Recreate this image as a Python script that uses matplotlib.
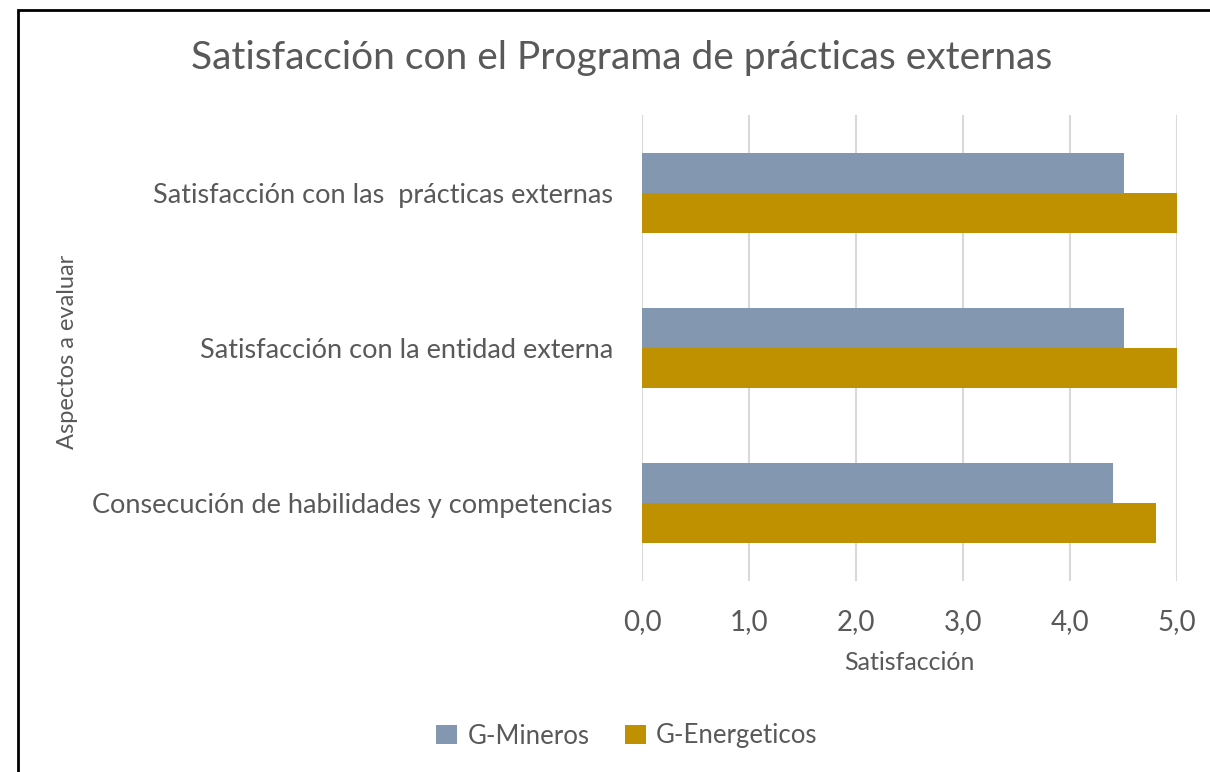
import numpy as np
import matplotlib.pyplot as plt
from matplotlib.patches import Rectangle

categorias = ['Consecución de habilidades y competencias',
              'Satisfacción con la entidad externa',
              'Satisfacción con las  prácticas externas']
mineros = [4.4, 4.5, 4.5]
energeticos = [4.8, 5.0, 5.0]
ticks = [0, 1, 2, 3, 4, 5]
tick_labels = ['0,0', '1,0', '2,0', '3,0', '4,0', '5,0']

gris = '#595959'
plt.rcParams['font.family'] = ['Lato', 'DejaVu Sans']

fig = plt.figure(figsize=(12.1, 7.72), dpi=100)
ax = fig.add_axes([642/1210, 1-581/772, 535/1210, 466/772])

y = np.arange(len(categorias))
h = 0.258
ax.barh(y + h/2, mineros, height=h, color='#8497b0', label='G-Mineros', zorder=3)
ax.barh(y - h/2, energeticos, height=h, color='#bf9000', label='G-Energeticos', zorder=3)

ax.set_xlim(0, 5)
ax.set_ylim(-0.5, 2.5)
ax.set_xticks(ticks)
ax.set_xticklabels(tick_labels, fontsize=20, color=gris)
ax.set_yticks(y)
ax.set_yticklabels(categorias, fontsize=19.5, color=gris)
ax.tick_params(length=0, pad=20, axis='x')
ax.tick_params(length=0, pad=21, axis='y')
ax.xaxis.grid(True, color='#d9d9d9', lw=1.5, zorder=0)
for s in ax.spines.values():
    s.set_visible(False)

ax.set_xlabel('Satisfacción', fontsize=18, color=gris, labelpad=12)
fig.text(68/1210, 1-352/772, 'Aspectos a evaluar', rotation=90, fontsize=17,
         color=gris, ha='center', va='center')
fig.text(622/1210, 1-58/772, 'Satisfacción con el Programa de prácticas externas',
         fontsize=28, color=gris, ha='center', va='center')

fig.legend(loc='center', bbox_to_anchor=(627/1210, 1-736/772), ncol=2, frameon=False,
           fontsize=18.5, labelcolor=gris, handlelength=0.8, handleheight=0.8,
           handletextpad=0.4, columnspacing=1.4)

fig.patches.append(Rectangle((18/1210, -0.5), 1.2, 1.5-10/772, transform=fig.transFigure,
                             fill=False, edgecolor='black', lw=2, zorder=10))

fig.savefig('out.png', dpi=100)
